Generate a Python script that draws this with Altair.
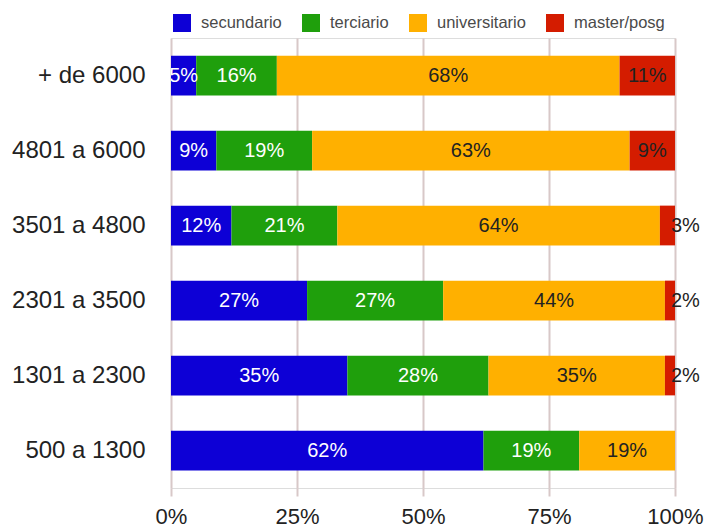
import altair as alt
import pandas as pd

groups = ["+ de 6000", "4801 a 6000", "3501 a 4800", "2301 a 3500", "1301 a 2300", "500 a 1300"]
levels = ["secundario", "terciario", "universitario", "master/posg"]
secundario = [5, 9, 12, 27, 35, 62]
terciario = [16, 19, 21, 27, 28, 19]
universitario = [68, 63, 64, 44, 35, 19]
master = [11, 9, 3, 2, 2, 0]
colors = ["#0d00d6", "#1f9f0c", "#ffb000", "#d41c00"]
text_colors = ["#ffffff", "#ffffff", "#222222", "#222222"]

series = [secundario, terciario, universitario, master]
rows = []
for gi, g in enumerate(groups):
    cum = 0.0
    for li, lev in enumerate(levels):
        v = series[li][gi]
        if v <= 0:
            continue
        start = cum / 100
        end = (cum + v) / 100
        rows.append({
            "grupo": g, "nivel": lev, "orden": li, "valor": v,
            "start": start, "end": end, "mid": (start + end) / 2,
            "label": f"{v}%", "tcolor": text_colors[li],
            "small": v < 4,
        })
        cum += v
df = pd.DataFrame(rows)

FONT = "Liberation Sans"

y_enc = alt.Y("grupo:N", sort=groups,
              scale=alt.Scale(paddingInner=0.47, paddingOuter=0.235),
              axis=alt.Axis(title=None, ticks=False, domain=False, labelFontSize=24,
                            labelFont=FONT, labelColor="#222222", labelPadding=26))

bars = alt.Chart(df).mark_bar().encode(
    x=alt.X("start:Q", scale=alt.Scale(domain=[0, 1], nice=False),
            axis=alt.Axis(title=None, format=".0%", values=[0, 0.25, 0.5, 0.75, 1],
                          grid=True, gridColor="#d8c8c8", gridWidth=2,
                          tickColor="#d8c8c8", tickWidth=2, tickSize=8,
                          domain=False, labelFontSize=22, labelFont=FONT,
                          labelColor="#222222", labelPadding=10, labelFlush=False)),
    x2="end:Q",
    y=y_enc,
    color=alt.Color("nivel:N", sort=levels,
                    scale=alt.Scale(domain=levels, range=colors),
                    legend=alt.Legend(title=None, orient="none", legendX=2, legendY=-24,
                                      direction="horizontal", columns=4,
                                      symbolType="square", symbolSize=324,
                                      symbolStrokeWidth=0, symbolOpacity=1,
                                      labelFontSize=16.5, labelFont=FONT,
                                      labelColor="#4a4a4a", labelOffset=10,
                                      columnPadding=20)),
    order=alt.Order("orden:Q"),
)

inside = alt.Chart(df).transform_filter("!datum.small").mark_text(
    fontSize=20, font=FONT, clip=True).encode(
    x="mid:Q",
    y=alt.Y("grupo:N", sort=groups),
    text="label:N",
    color=alt.Color("tcolor:N", scale=None),
)

outside = alt.Chart(df).transform_filter("datum.small").mark_text(
    fontSize=20, font=FONT, align="left", dx=-4).encode(
    x="end:Q",
    y=alt.Y("grupo:N", sort=groups),
    text="label:N",
    color=alt.Color("tcolor:N", scale=None),
)

chart = alt.layer(bars, inside, outside).properties(
    width=504, height=450,
    autosize=alt.AutoSizeParams(type="none"),
    padding={"left": 171, "top": 38, "right": 34, "bottom": 39},
).configure_view(stroke=None).configure(background="white")

chart.save("out.html", embed_options={"renderer": "svg", "actions": False})
